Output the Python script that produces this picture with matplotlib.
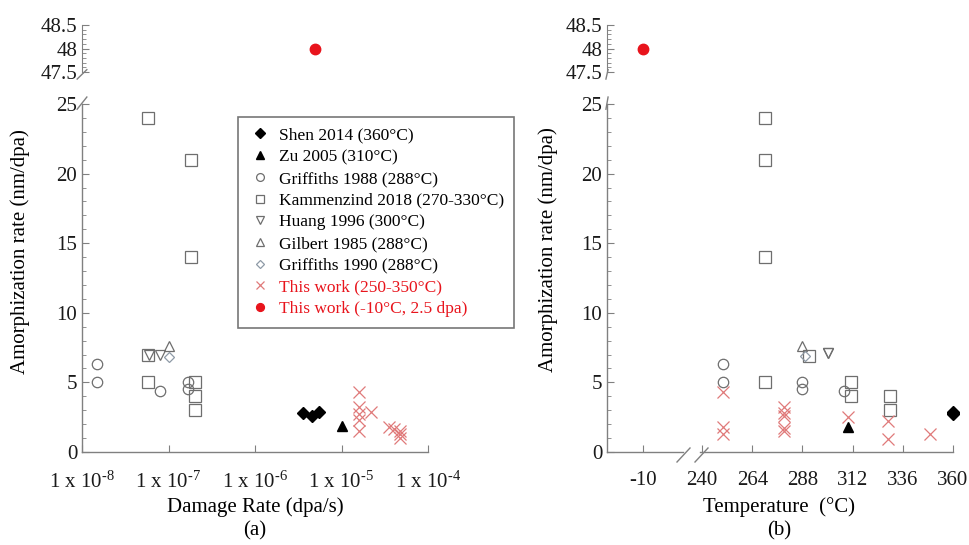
import matplotlib
matplotlib.use("Agg")
import matplotlib.pyplot as plt
from matplotlib.lines import Line2D

plt.rcParams['font.family'] = ['Liberation Serif', 'DejaVu Serif']
plt.rcParams['mathtext.fontset'] = 'custom'
plt.rcParams['mathtext.rm'] = 'Liberation Serif'
plt.rcParams['mathtext.it'] = 'Liberation Serif:italic'

# ---------------- data: panel (a) damage rate ----------------
shen_rate = [3.6e-6, 4.5e-6, 5.5e-6]
shen_val_a = [2.8, 2.6, 2.9]
zu_rate = [1.0e-5]
zu_val_a = [1.9]
griff88_rate = [1.5e-8, 1.5e-8, 8.0e-8, 1.7e-7, 1.7e-7]
griff88_val_a = [6.3, 5.0, 4.4, 5.0, 4.5]
kamm_rate = [5.8e-8, 5.8e-8, 5.8e-8, 1.8e-7, 1.8e-7, 2.0e-7, 2.0e-7, 2.0e-7]
kamm_val_a = [24.0, 7.0, 5.0, 21.0, 14.0, 5.0, 4.0, 3.0]
huang_rate = [6.0e-8, 8.0e-8]
huang_val_a = [7.0, 7.0]
gilbert_rate = [1.0e-7]
gilbert_val_a = [7.6]
griff90_rate = [1.0e-7]
griff90_val_a = [6.8]
tw_rate = [1.6e-5, 1.6e-5, 1.6e-5, 1.6e-5, 1.6e-5, 2.2e-5, 3.5e-5, 4.0e-5, 4.8e-5, 4.8e-5, 4.8e-5]
tw_val_a = [4.3, 3.2, 2.7, 2.3, 1.5, 2.9, 1.8, 1.65, 1.5, 1.3, 1.0]
lowT_rate = [4.9e-6]
lowT_val = [48.0]

# ---------------- data: panel (b) temperature ----------------
shen_T = [360, 360, 360]
shen_val_b = [2.7, 2.8, 2.9]
zu_T = [310]
zu_val_b = [1.8]
griff88_T = [250, 250, 288, 288, 308]
griff88_val_b = [6.3, 5.0, 5.0, 4.5, 4.4]
kamm_T = [270, 270, 270, 270, 291, 311, 311, 330, 330]
kamm_val_b = [24.0, 21.0, 14.0, 5.0, 6.9, 5.0, 4.0, 4.0, 3.0]
huang_T = [300, 300]
huang_val_b = [7.1, 7.1]
gilbert_T = [288]
gilbert_val_b = [7.6]
griff90_T = [289]
griff90_val_b = [6.9]
tw_T = [250, 250, 250, 279, 279, 279, 279, 279, 310, 329, 329, 349]
tw_val_b = [4.3, 1.8, 1.3, 3.2, 2.8, 2.6, 1.7, 1.5, 2.5, 2.2, 0.9, 1.3]
lowT_T = [-10]

labels = ["Shen 2014 (360°C)", "Zu 2005 (310°C)", "Griffiths 1988 (288°C)",
          "Kammenzind 2018 (270-330°C)", "Huang 1996 (300°C)", "Gilbert 1985 (288°C)",
          "Griffiths 1990 (288°C)", "This work (250-350°C)", "This work (-10°C, 2.5 dpa)"]
rate_ticks = [1e-8, 1e-7, 1e-6, 1e-5, 1e-4]
rate_ticklabels = ['1 x 10$^{\u20108}$', '1 x 10$^{\u20107}$', '1 x 10$^{\u20106}$',
                   '1 x 10$^{\u20105}$', '1 x 10$^{\u20104}$']
temp_ticks = [240, 264, 288, 312, 336, 360]
low_ticks = [-10]

GRAY = '#6e6e6e'
SPINE = '#808080'
RED = '#e8141c'
XRED = '#e07a7a'
FS = 15

styles = [
    dict(marker='D', ms=6.5, mfc='black', mec='black', ls='none'),
    dict(marker='^', ms=7.5, mfc='black', mec='black', ls='none'),
    dict(marker='o', ms=7.5, mfc='none', mec=GRAY, mew=0.9, ls='none'),
    dict(marker='s', ms=8, mfc='none', mec=GRAY, mew=0.9, ls='none'),
    dict(marker='v', ms=7.5, mfc='none', mec=GRAY, mew=0.9, ls='none'),
    dict(marker='^', ms=7.5, mfc='none', mec=GRAY, mew=0.9, ls='none'),
    dict(marker='D', ms=5.5, mfc='none', mec='#8e9aa6', mew=0.9, ls='none'),
    dict(marker='x', ms=8, mfc='none', mec=XRED, mew=0.9, ls='none'),
    dict(marker='o', ms=7.5, mfc=RED, mec=RED, ls='none'),
]

W, H = 969, 545
fig = plt.figure(figsize=(W / 100, H / 100), dpi=100)


def rect(x0, y0, x1, y1):
    return [x0 / W, 1 - y1 / H, (x1 - x0) / W, (y1 - y0) / H]


def style_main(ax):
    for s in ['top', 'right']:
        ax.spines[s].set_visible(False)
    for s in ['left', 'bottom']:
        ax.spines[s].set_color(SPINE)
        ax.spines[s].set_linewidth(1.0)
    ax.tick_params(which='both', direction='in', color=SPINE, labelsize=FS, labelcolor='#1a1a1a')
    ax.tick_params(which='major', length=5)
    ax.tick_params(which='minor', length=3)
    ax.set_facecolor('none')


def style_top(ax):
    for s in ['top', 'right', 'bottom']:
        ax.spines[s].set_visible(False)
    ax.spines['left'].set_color(SPINE)
    ax.set_ylim(47.5, 48.5)
    ax.set_yticks([47.5, 48.0, 48.5])
    ax.set_yticklabels(['47.5', '48', '48.5'])
    ax.set_yticks([47.5 + 0.1 * i for i in range(11)], minor=True)
    ax.tick_params(which='both', direction='in', color=SPINE, labelsize=FS, labelcolor='#1a1a1a')
    ax.tick_params(which='major', length=5)
    ax.tick_params(which='minor', length=3)
    ax.set_xticks([])
    ax.set_facecolor('none')


def ybreaks(ax_main, ax_top):
    d = dict(color=SPINE, lw=1.0, clip_on=False)
    ax_main.plot([-0.014, 0.014], [0.985, 1.02], transform=ax_main.transAxes, **d)
    ax_top.plot([-0.014, 0.014], [-0.15, 0.05], transform=ax_top.transAxes, **d)


def main_y(ax):
    ax.set_ylim(0, 25)
    ax.set_yticks([0, 5, 10, 15, 20, 25])
    ax.set_yticks(range(0, 26), minor=True)


# ---------------- panel (a) ----------------
axA = fig.add_axes(rect(82, 104, 428, 452))
axAt = fig.add_axes(rect(82, 25, 428, 72))
style_main(axA)
style_top(axAt)
main_y(axA)
axA.set_xscale('log')
axA.set_xlim(1e-8, 1e-4)
axAt.set_xscale('log')
axAt.set_xlim(1e-8, 1e-4)
axAt.set_xticks([])
axAt.minorticks_off()
axAt.set_yticks([47.5 + 0.1 * i for i in range(11)], minor=True)
axA.set_xticks(rate_ticks)
axA.set_xticklabels(rate_ticklabels)
axA.xaxis.set_minor_locator(matplotlib.ticker.NullLocator())
axA.tick_params(axis='x', pad=14)

data_a = [(shen_rate, shen_val_a), (zu_rate, zu_val_a), (griff88_rate, griff88_val_a),
          (kamm_rate, kamm_val_a), (huang_rate, huang_val_a), (gilbert_rate, gilbert_val_a),
          (griff90_rate, griff90_val_a), (tw_rate, tw_val_a)]
handles = []
for (x, y), st, lab in zip(data_a, styles[:8], labels[:8]):
    h, = axA.plot(x, y, label=lab, **st)
    handles.append(h)
h, = axAt.plot(lowT_rate, lowT_val, label=labels[8], **styles[8])
handles.append(h)
ybreaks(axA, axAt)

leg = axA.legend(handles=handles, loc='upper left', bbox_to_anchor=(238 / W, 1 - 117 / H),
                 bbox_transform=fig.transFigure, fontsize=12.5, frameon=True, fancybox=False,
                 edgecolor='#777777', framealpha=1, handlelength=1.3, handletextpad=0.45,
                 labelspacing=0.32, borderpad=0.6, markerscale=0.75, borderaxespad=0)
leg.get_frame().set_linewidth(1.2)
for t in leg.get_texts()[7:]:
    t.set_color(RED)

fig.text(255 / W, 1 - 507 / H, 'Damage Rate (dpa/s)', ha='center', va='center', fontsize=FS)
fig.text(255 / W, 1 - 531 / H, '(a)', ha='center', va='center', fontsize=FS)
fig.text(20 / W, 1 - 252 / H, 'Amorphization rate (nm/dpa)', ha='center', va='center',
         rotation=90, fontsize=FS)

# ---------------- panel (b) ----------------
axB1 = fig.add_axes(rect(607, 104, 683, 452))
axB2 = fig.add_axes(rect(700, 104, 953, 452))
axBt = fig.add_axes(rect(607, 25, 683, 72))
style_main(axB1)
style_main(axB2)
style_top(axBt)
main_y(axB1)
main_y(axB2)
axB2.spines['left'].set_visible(False)
axB2.tick_params(axis='y', which='both', left=False, labelleft=False)
axB1.set_xlim(-20, 1)
axBt.set_xlim(-20, 1)
axB1.set_xticks(low_ticks)
axB1.set_xticklabels(['-10'])
axB2.set_xlim(239, 360)
axB2.set_xticks(temp_ticks)
axB2.set_xticklabels([str(t) for t in temp_ticks])
axB1.tick_params(axis='x', pad=14)
axB2.tick_params(axis='x', pad=14)

data_b = [(shen_T, shen_val_b), (zu_T, zu_val_b), (griff88_T, griff88_val_b),
          (kamm_T, kamm_val_b), (huang_T, huang_val_b), (gilbert_T, gilbert_val_b),
          (griff90_T, griff90_val_b), (tw_T, tw_val_b)]
for (x, y), st in zip(data_b, styles[:8]):
    axB2.plot(x, y, clip_on=False, **st)
axBt.plot(lowT_T, lowT_val, **styles[8])
ybreaks(axB1, axBt)
# x-axis break slashes
for x0 in (677, 695):
    fig.add_artist(Line2D([x0 / W, (x0 + 13) / W], [1 - 462 / H, 1 - 448 / H],
                          color=SPINE, lw=1.0, transform=fig.transFigure))

fig.text(779 / W, 1 - 507 / H, 'Temperature  (°C)', ha='center', va='center', fontsize=FS)
fig.text(779 / W, 1 - 531 / H, '(b)', ha='center', va='center', fontsize=FS)
fig.text(548 / W, 1 - 250 / H, 'Amorphization rate (nm/dpa)', ha='center', va='center',
         rotation=90, fontsize=FS)

fig.savefig('out.png', dpi=100)
